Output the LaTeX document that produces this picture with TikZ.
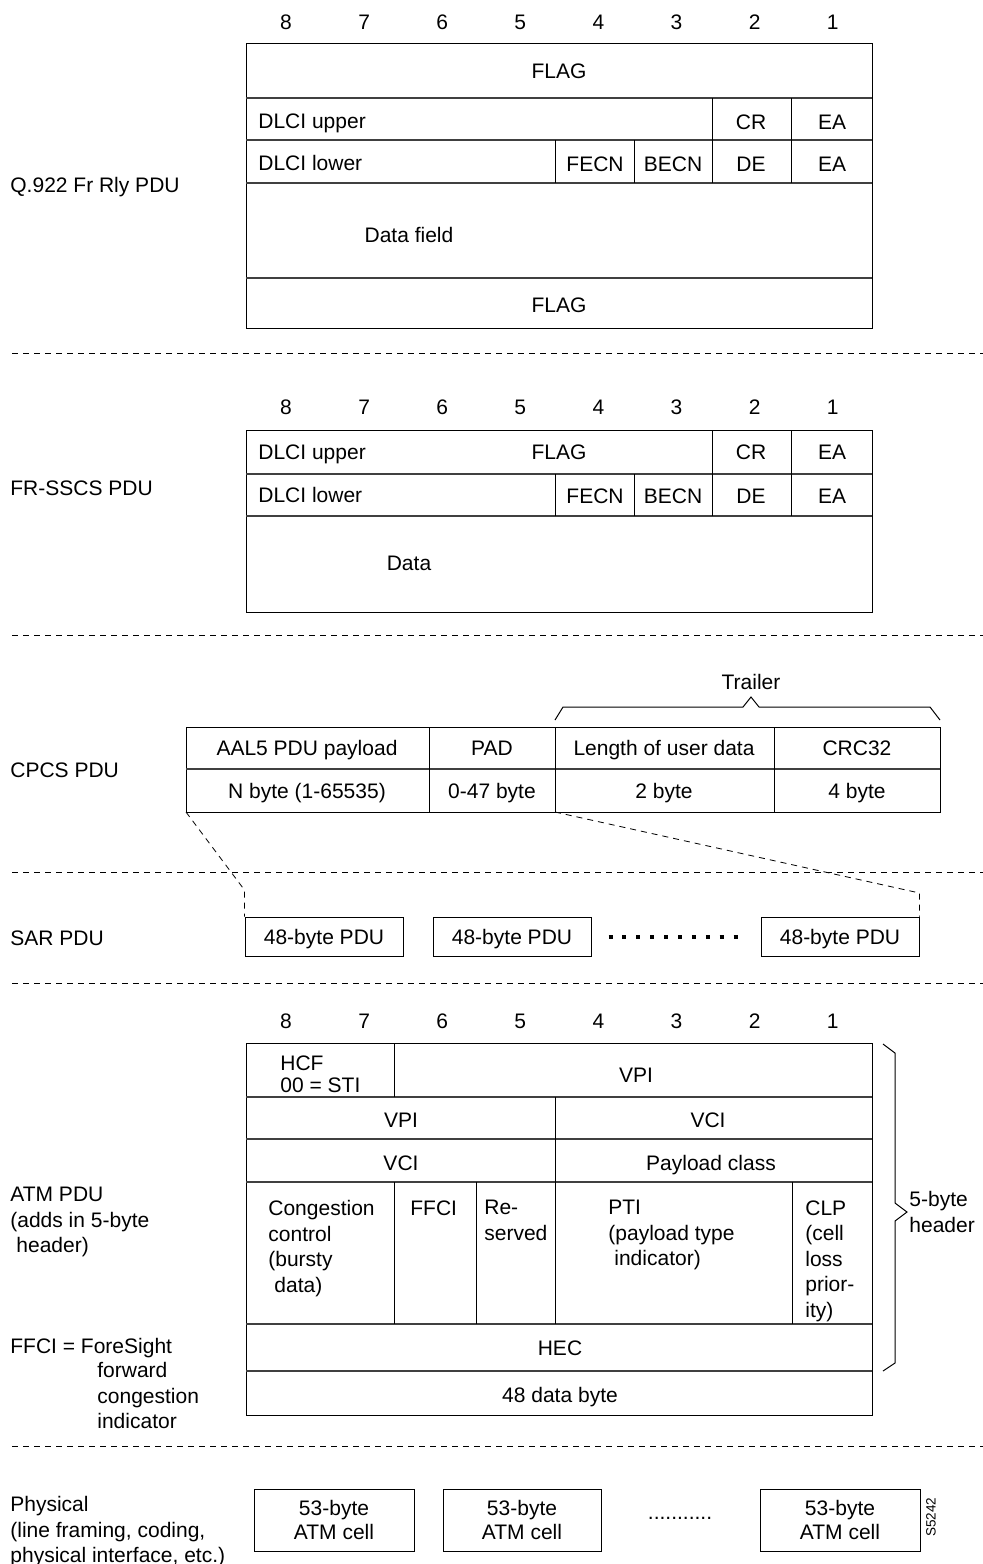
\documentclass[tikz,border=0pt]{standalone}
\usepackage{fontspec}
\setmainfont{Liberation Sans}

\begin{document}
\begin{tikzpicture}[x=0.5pt,y=-0.5pt]
\tikzset{every node/.style={font=\fontsize{10.5}{12.75}\selectfont,inner sep=0pt}}
\tikzset{fld/.style={text height=7.5pt,text depth=0pt}}
\tikzset{lbl/.style={anchor=west,fld}}
\tikzset{mlbl/.style={anchor=west,align=left}}
\tikzset{toplbl/.style={anchor=north west,align=left}}
\tikzset{frame/.style={line width=0.5pt}}
\tikzset{rowline/.style={line width=0.7pt,black!75}}
\tikzset{layersep/.style={line width=0.4pt,dash pattern=on 3pt off 2.5pt}}
\tikzset{fanline/.style={line width=0.4pt,dash pattern=on 3pt off 2.5pt}}
\tikzset{pdubox/.style={draw,fld,line width=0.5pt,minimum width=79pt,minimum height=19.5pt}}
\tikzset{cellbox/.style={draw,line width=0.5pt,minimum height=31pt,align=center,font=\fontsize{10.5}{12}\selectfont}}
\useasboundingbox (0,0) rectangle (983,1564);

% layer names on the left
\node (lq) at (10,185) [lbl] {Q.922 Fr Rly PDU};
\node (lfr) at (10,488) [lbl] {FR-SSCS PDU};
\node (lcpcs) at (10,770) [lbl] {CPCS PDU};
\node (lsar) at (10,938) [lbl] {SAR PDU};
\node (latm) at (10,1187) [toplbl] {ATM PDU\\(adds in 5-byte\\\hspace*{3pt}header)};
\node (lffci) at (10,1346) [lbl] {FFCI = ForeSight};
\node (lffci2) at (97,1362) [toplbl] {forward\\congestion\\indicator};
\node (lphy) at (10,1496) [toplbl] {Physical\\(line framing, coding,\\physical interface, etc.)};

% bit numbers
\foreach \b [count=\i] in {8,7,6,5,4,3,2,1} {
  \node (qbit\b) at ({286+78.1*(\i-1)},22) [fld] {\b};
  \node (fbit\b) at ({286+78.1*(\i-1)},407) [fld] {\b};
  \node (abit\b) at ({286+78.1*(\i-1)},1021) [fld] {\b};
}

% Q.922 frame
\draw[frame] (246,43) rectangle (872,328);
\foreach \y in {98,140,183,278} \draw[rowline] (246,\y) -- (872,\y);
\draw[frame] (712,98) -- (712,183) (791,98) -- (791,183);
\draw[frame] (555,140) -- (555,183) (634,140) -- (634,183);
\node (qflag1) at (559,71) [fld] {FLAG};
\node (qup) at (258,121) [lbl] {DLCI upper};
\node (qcr) at (751,122) [fld] {CR};
\node (qea1) at (832,122) [fld] {EA};
\node (qlow) at (258,163) [lbl] {DLCI lower};
\node (qfecn) at (595,164) [fld] {FECN};
\node (qbecn) at (673,164) [fld] {BECN};
\node (qde) at (751,164) [fld] {DE};
\node (qea2) at (832,164) [fld] {EA};
\node (qdata) at (409,235) [fld] {Data field};
\node (qflag2) at (559,305) [fld] {FLAG};

\draw[layersep] (12,353) -- (983,353);

% FR-SSCS frame
\draw[frame] (246,430) rectangle (872,612);
\foreach \y in {474,516} \draw[rowline] (246,\y) -- (872,\y);
\draw[frame] (712,430) -- (712,516) (791,430) -- (791,516);
\draw[frame] (555,474) -- (555,516) (634,474) -- (634,516);
\node (fup) at (258,452) [lbl] {DLCI upper};
\node (fflag) at (559,452) [fld] {FLAG};
\node (fcr) at (751,452) [fld] {CR};
\node (fea1) at (832,452) [fld] {EA};
\node (flow) at (258,495) [lbl] {DLCI lower};
\node (ffecn) at (595,496) [fld] {FECN};
\node (fbecn) at (673,496) [fld] {BECN};
\node (fde) at (751,496) [fld] {DE};
\node (fea2) at (832,496) [fld] {EA};
\node (fdata) at (409,563) [fld] {Data};

\draw[layersep] (12,635) -- (983,635);

% CPCS
\node (trailer) at (751,682) [fld] {Trailer};
\draw[frame] (555,720) -- (563,707) -- (743,707) -- (751,697) -- (759,707) -- (930,707) -- (940,720);
\draw[frame] (186,727) rectangle (940,812);
\draw[rowline] (186,769) -- (940,769);
\foreach \x in {429,555,774} \draw[frame] (\x,727) -- (\x,812);
\node (payload) at (307,748) [fld] {AAL5 PDU payload};
\node (pad) at (492,748) [fld] {PAD};
\node (length) at (664,748) [fld] {Length of user data};
\node (crc) at (857,748) [fld] {CRC32};
\node (nbyte) at (307,791) [fld] {N byte (1-65535)};
\node (padbyte) at (492,791) [fld] {0-47 byte};
\node (lenbyte) at (664,791) [fld] {2 byte};
\node (crcbyte) at (857,791) [fld] {4 byte};
\coordinate (cpcssw) at (186,812);
\coordinate (padse) at (555,812);

\draw[layersep] (12,872) -- (983,872);

% SAR
\node (sar1) at (324,936.5) [pdubox] {48-byte PDU};
\node (sar2) at (512,936.5) [pdubox] {48-byte PDU};
\node (sar3) at (840,936.5) [pdubox] {48-byte PDU};
\draw[line width=2pt,dash pattern=on 2pt off 4.95pt] ([xshift=8.5pt]sar2.east) -- ([xshift=-8pt]sar3.west);
\draw[fanline] (cpcssw) -- (sar1.north west |- 0,890) -- (sar1.north west);
\draw[fanline] (padse) -- (sar3.north east |- 0,893) -- (sar3.north east);

\draw[layersep] (12,983) -- (983,983);

% ATM cell
\draw[frame] (246,1043) rectangle (872,1415);
\foreach \y in {1097,1139,1182,1324,1371} \draw[rowline] (246,\y) -- (872,\y);
\draw[frame] (394,1043) -- (394,1097);
\draw[frame] (555,1097) -- (555,1324);
\foreach \x in {394,476,792} \draw[frame] (\x,1182) -- (\x,1324);
\node (hcf) at (280,1074) [mlbl,font=\fontsize{10.5}{11}\selectfont] {HCF\\00 = STI};
\node (vpi1) at (636,1075) [fld] {VPI};
\node (vpi2) at (401,1120) [fld] {VPI};
\node (vci1) at (708,1120) [fld] {VCI};
\node (vci2) at (401,1163) [fld] {VCI};
\node (pclass) at (711,1163) [fld] {Payload class};
\node (cong) at (268,1200) [toplbl] {Congestion\\control\\(bursty\\\hspace*{3pt}data)};
\node (ffci) at (410,1200) [toplbl] {FFCI};
\node (resv) at (484,1200) [toplbl] {Re-\\served};
\node (pti) at (608,1200) [toplbl] {PTI\\(payload type\\\hspace*{3pt}indicator)};
\node (clp) at (805,1200) [toplbl] {CLP\\(cell\\loss\\prior-\\ity)};
\node (hec) at (560,1348) [fld] {HEC};
\node (payl) at (560,1395) [fld] {48 data byte};
\draw[frame] (883,1044) -- (895,1053) -- (895,1203) -- (907,1212) -- (895,1221) -- (895,1363) -- (883,1371);
\node (hdr) at (909,1212) [mlbl] {5-byte\\header};

\draw[layersep] (12,1446) -- (983,1446);

% physical
\node (cell1) at (334,1520) [cellbox,minimum width=80pt] {53-byte\\ATM cell};
\node (cell2) at (522,1520) [cellbox,minimum width=79pt] {53-byte\\ATM cell};
\node (cell3) at (840,1520) [cellbox,minimum width=80pt] {53-byte\\ATM cell};
\node (celldots) at (680,1518) {...........};
\node (fig) at (931,1517) [rotate=90,font=\fontsize{6.75}{8}\selectfont] {S5242};
\end{tikzpicture}
\end{document}
